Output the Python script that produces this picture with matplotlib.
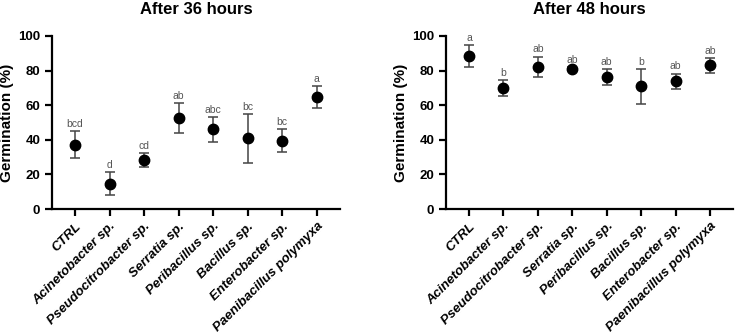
import numpy as np
import matplotlib.pyplot as plt

plt.rcParams['font.family'] = ['Liberation Sans', 'DejaVu Sans']

strains = ["CTRL", "Acinetobacter sp.", "Pseudocitrobacter sp.", "Serratia sp.",
           "Peribacillus sp.", "Bacillus sp.", "Enterobacter sp.", "Paenibacillus polymyxa"]

mean_36 = [37.3, 14.6, 28.3, 52.5, 46.0, 40.8, 39.4, 64.8]
err_36 = [7.6, 6.7, 4.2, 8.7, 7.0, 14.2, 6.6, 6.5]
letters_36 = ["bcd", "d", "cd", "ab", "abc", "bc", "bc", "a"]

mean_48 = [88.5, 69.9, 82.2, 81.0, 76.4, 70.9, 73.8, 83.1]
err_48 = [6.4, 4.5, 5.9, 0.8, 4.7, 10.1, 4.5, 4.4]
letters_48 = ["a", "b", "ab", "ab", "ab", "b", "ab", "ab"]

fig = plt.figure(figsize=(7.36, 3.33), dpi=100)
ax1 = fig.add_axes([0.0707, 0.372, 0.391, 0.520])
ax2 = fig.add_axes([0.606, 0.372, 0.390, 0.520])

for ax, m, e, lab, title in [(ax1, mean_36, err_36, letters_36, "After 36 hours"),
                             (ax2, mean_48, err_48, letters_48, "After 48 hours")]:
    x = np.arange(len(strains))
    ax.errorbar(x, m, yerr=e, fmt='o', color='black', ms=7.5, ecolor='#444444',
                elinewidth=1.1, capsize=3.5, capthick=1.1, zorder=3)
    for xi, mi, ei, t in zip(x, m, e, lab):
        ax.annotate(t, (xi, mi + ei), xytext=(0, 1.5), textcoords='offset points',
                    ha='center', va='bottom', fontsize=7.5, color='#555555')
    ax.set_xlim(-0.67, 7.67)
    ax.set_ylim(0, 100)
    ax.set_yticks([0, 20, 40, 60, 80, 100])
    ax.set_xticks(x)
    ax.set_xticklabels(strains, rotation=45, ha='right', rotation_mode='anchor',
                       fontsize=9.5, fontweight='bold', fontstyle='italic')
    for t in ax.get_yticklabels():
        t.set_fontweight('bold')
        t.set_fontsize(9.5)
    ax.spines['top'].set_visible(False)
    ax.spines['right'].set_visible(False)
    ax.spines['left'].set_linewidth(1.6)
    ax.spines['bottom'].set_linewidth(1.6)
    ax.tick_params(axis='both', width=1.6, length=5)
    ax.tick_params(axis='x', pad=3)
    ax.set_ylabel("Germination (%)", fontsize=11, fontweight='bold', labelpad=3)
    ax.set_title(title, fontsize=12, fontweight='bold', pad=16)

fig.savefig("out.png", dpi=100)
